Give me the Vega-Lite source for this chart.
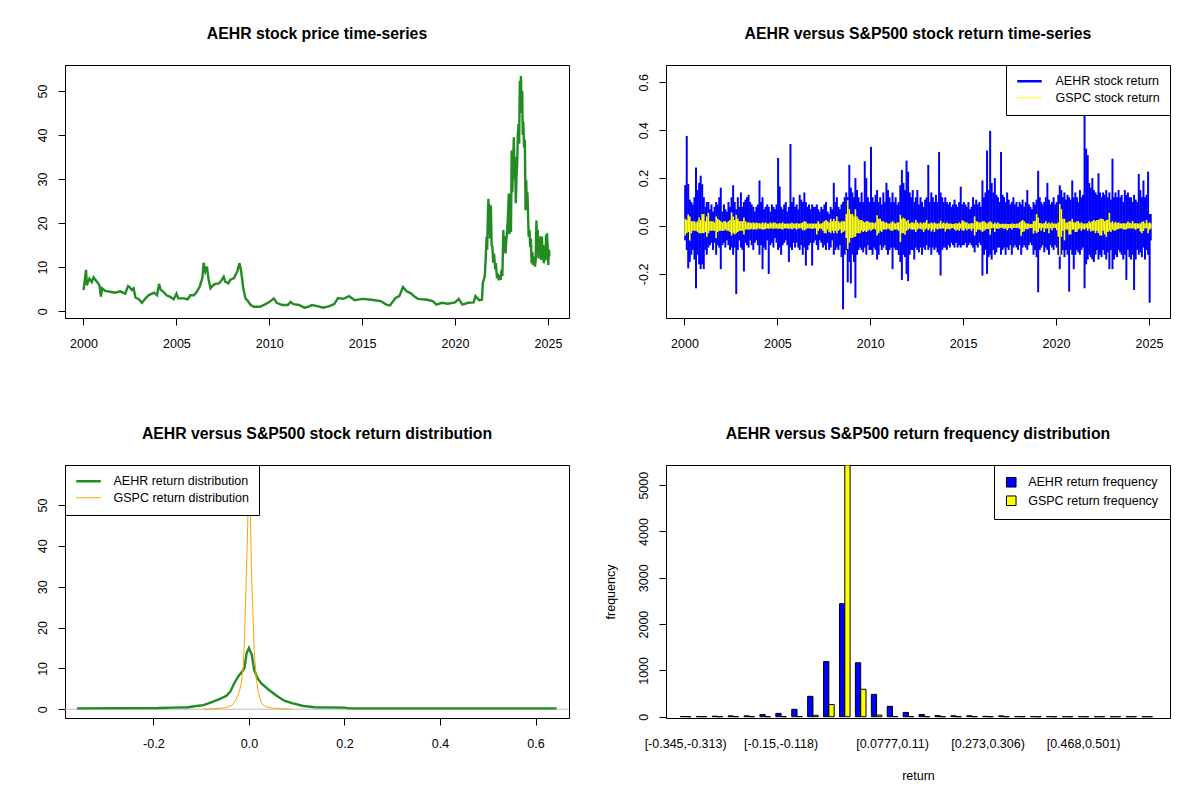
{
  "$schema": "https://vega.github.io/schema/vega-lite/v6.json",
  "autosize": {"type": "none"},
  "padding": {"left": 65, "top": 65, "right": 1135, "bottom": 735},
  "background": "white",
  "columns": 2,
  "spacing": {"row": 147, "column": 97},
  "bounds": "flush",
  "resolve": {"scale": {"color": "independent", "x": "independent", "y": "independent"}, "legend": {"color": "independent"}},
  "config": {
    "font": "Liberation Sans",
    "locale": {"number": {"decimal": ".", "thousands": ",", "grouping": [3], "currency": ["$", ""], "minus": "-"}},
    "view": {"stroke": "black", "strokeWidth": 1},
    "axis": {"domain": false, "grid": false, "ticks": true, "tickSize": 7, "tickColor": "black", "tickWidth": 1, "labelFontSize": 12.5, "labelColor": "black", "labelFont": "Liberation Sans", "titleFont": "Liberation Sans", "titleFontSize": 12.5, "titleFontWeight": "normal", "titleColor": "black", "labelOverlap": false, "labelFlush": false},
    "axisX": {"labelPadding": 22, "labelBaseline": "alphabetic", "labelAngle": 0},
    "axisY": {"labelPadding": 12, "labelAngle": -90, "labelAlign": "center", "labelBaseline": "alphabetic"},
    "title": {"fontSize": 15.8, "fontWeight": "bold", "font": "Liberation Sans", "anchor": "middle", "frame": "group", "baseline": "alphabetic", "offset": 22, "color": "black"},
    "legend": {"labelFont": "Liberation Sans", "labelFontSize": 12.5, "labelColor": "black", "strokeColor": "black", "fillColor": "white", "rowPadding": 3.5, "cornerRadius": 0}
  },
  "concat": [
    {
      "title": "AEHR stock price time-series",
      "width": 504,
      "height": 253,
      "data": {"values": [
        {"d":"2000-01-03","p":4.8},{"d":"2000-02-21","p":9.4},{"d":"2000-03-07","p":5.9},{"d":"2000-04-27","p":7.4},{"d":"2000-06-12","p":6.6},{"d":"2000-07-16","p":7.7},{"d":"2000-08-25","p":7.1},{"d":"2000-10-04","p":6.5},{"d":"2000-11-10","p":5.9},{"d":"2000-12-09","p":3.3},
        {"d":"2001-01-01","p":5.2},{"d":"2001-03-03","p":4.6},{"d":"2001-06-10","p":4.4},{"d":"2001-09-13","p":4.2},{"d":"2001-12-24","p":4.5},
        {"d":"2002-04-01","p":4.0},{"d":"2002-05-26","p":5.7},{"d":"2002-07-01","p":5.4},{"d":"2002-08-08","p":4.8},{"d":"2002-09-13","p":5.2},{"d":"2002-10-19","p":3.1},{"d":"2002-12-24","p":2.7},
        {"d":"2003-02-24","p":1.9},{"d":"2003-04-20","p":2.7},{"d":"2003-07-01","p":3.6},{"d":"2003-10-19","p":4.2},{"d":"2003-12-17","p":3.6},
        {"d":"2004-01-27","p":6.2},{"d":"2004-02-25","p":4.9},{"d":"2004-04-20","p":4.4},{"d":"2004-06-21","p":3.6},{"d":"2004-08-25","p":3.3},{"d":"2004-11-10","p":2.7},
        {"d":"2005-01-03","p":4.0},{"d":"2005-02-06","p":2.9},{"d":"2005-05-26","p":2.9},{"d":"2005-08-08","p":2.7},{"d":"2005-10-05","p":3.6},{"d":"2005-12-10","p":3.6},
        {"d":"2006-02-06","p":4.4},{"d":"2006-04-01","p":5.5},{"d":"2006-05-26","p":7.5},{"d":"2006-06-21","p":11.0},{"d":"2006-07-24","p":9.0},{"d":"2006-08-25","p":10.1},{"d":"2006-09-27","p":7.1},{"d":"2006-11-03","p":5.2},{"d":"2006-12-24","p":5.9},
        {"d":"2007-02-06","p":6.2},{"d":"2007-04-20","p":6.3},{"d":"2007-06-14","p":7.1},{"d":"2007-07-20","p":7.8},{"d":"2007-08-19","p":6.7},{"d":"2007-10-19","p":6.3},{"d":"2007-11-24","p":7.1},
        {"d":"2008-02-06","p":7.5},{"d":"2008-04-12","p":9.0},{"d":"2008-05-26","p":10.9},{"d":"2008-06-24","p":9.4},{"d":"2008-08-08","p":5.2},{"d":"2008-09-21","p":2.9},{"d":"2008-11-07","p":2.3},
        {"d":"2009-01-01","p":1.4},{"d":"2009-03-03","p":1.0},{"d":"2009-07-01","p":1.0},{"d":"2009-10-19","p":1.6},
        {"d":"2010-01-01","p":2.1},{"d":"2010-04-01","p":2.9},{"d":"2010-05-26","p":1.9},{"d":"2010-09-13","p":1.4},
        {"d":"2011-01-01","p":1.4},{"d":"2011-02-24","p":2.1},{"d":"2011-04-20","p":1.6},{"d":"2011-08-08","p":1.4},{"d":"2011-11-24","p":0.8},
        {"d":"2012-02-06","p":1.0},{"d":"2012-04-20","p":1.4},{"d":"2012-08-25","p":1.1},{"d":"2012-11-24","p":0.8},
        {"d":"2013-03-14","p":1.1},{"d":"2013-07-01","p":1.6},{"d":"2013-09-13","p":3.0},
        {"d":"2014-01-01","p":2.8},{"d":"2014-04-20","p":3.4},{"d":"2014-08-08","p":2.5},
        {"d":"2015-01-01","p":2.8},{"d":"2015-07-01","p":2.6},
        {"d":"2016-01-01","p":2.3},{"d":"2016-04-20","p":1.5},{"d":"2016-07-01","p":1.3},{"d":"2016-10-19","p":3.0},
        {"d":"2017-01-01","p":3.4},{"d":"2017-03-14","p":5.5},{"d":"2017-05-26","p":4.5},{"d":"2017-08-08","p":4.1},{"d":"2017-10-19","p":3.4},
        {"d":"2018-01-01","p":2.8},{"d":"2018-07-01","p":2.6},{"d":"2018-10-19","p":2.3},
        {"d":"2019-01-01","p":1.5},{"d":"2019-04-20","p":1.9},{"d":"2019-08-08","p":1.7},
        {"d":"2020-01-01","p":2.0},{"d":"2020-03-14","p":2.8},{"d":"2020-05-26","p":1.5},{"d":"2020-09-13","p":1.9},
        {"d":"2021-01-01","p":2.0},{"d":"2021-02-06","p":3.4},{"d":"2021-04-20","p":2.5},{"d":"2021-06-14","p":2.6},{"d":"2021-07-01","p":6.4},{"d":"2021-08-08","p":7.9},{"d":"2021-08-25","p":11.6},{"d":"2021-09-13","p":16.9},{"d":"2021-09-25","p":14.0},{"d":"2021-10-08","p":22.0},{"d":"2021-10-19","p":25.5},{"d":"2021-10-28","p":18.0},{"d":"2021-11-08","p":24.3},{"d":"2021-11-20","p":16.5},{"d":"2021-12-06","p":24.0},{"d":"2021-12-20","p":15.0},
        {"d":"2022-01-05","p":14.6},{"d":"2022-01-20","p":11.0},{"d":"2022-02-06","p":13.1},{"d":"2022-03-01","p":9.5},{"d":"2022-03-14","p":10.9},{"d":"2022-04-05","p":7.5},{"d":"2022-04-20","p":8.5},{"d":"2022-05-10","p":7.0},{"d":"2022-06-01","p":8.2},{"d":"2022-06-14","p":7.1},{"d":"2022-07-05","p":9.4},{"d":"2022-07-20","p":8.0},{"d":"2022-08-08","p":18.4},{"d":"2022-08-20","p":13.5},{"d":"2022-09-05","p":17.0},{"d":"2022-09-20","p":13.1},{"d":"2022-10-05","p":16.0},{"d":"2022-10-19","p":17.7},{"d":"2022-11-05","p":21.0},{"d":"2022-11-24","p":26.7},{"d":"2022-12-05","p":17.5},{"d":"2022-12-19","p":22.0},
        {"d":"2023-01-05","p":18.0},{"d":"2023-01-19","p":36.5},{"d":"2023-02-01","p":27.0},{"d":"2023-02-14","p":33.0},{"d":"2023-03-03","p":39.5},{"d":"2023-03-15","p":30.0},{"d":"2023-03-28","p":35.0},{"d":"2023-04-10","p":24.5},{"d":"2023-04-25","p":31.0},{"d":"2023-05-08","p":33.5},{"d":"2023-05-20","p":40.0},{"d":"2023-06-03","p":42.5},{"d":"2023-06-15","p":38.0},{"d":"2023-06-28","p":52.3},{"d":"2023-07-10","p":46.0},{"d":"2023-07-20","p":53.4},{"d":"2023-08-01","p":45.0},{"d":"2023-08-14","p":50.0},{"d":"2023-08-25","p":40.0},{"d":"2023-09-05","p":43.0},{"d":"2023-09-20","p":37.2},{"d":"2023-10-05","p":39.0},{"d":"2023-10-19","p":22.9},{"d":"2023-11-01","p":29.7},{"d":"2023-11-12","p":24.0},{"d":"2023-11-24","p":27.0},{"d":"2023-12-05","p":22.9},{"d":"2023-12-19","p":16.9},
        {"d":"2024-01-05","p":18.5},{"d":"2024-01-19","p":14.6},{"d":"2024-02-01","p":16.5},{"d":"2024-02-14","p":10.9},{"d":"2024-03-01","p":13.5},{"d":"2024-03-14","p":10.5},{"d":"2024-04-01","p":12.4},{"d":"2024-04-20","p":10.1},{"d":"2024-05-05","p":11.5},{"d":"2024-05-20","p":20.6},{"d":"2024-06-01","p":14.0},{"d":"2024-06-14","p":18.5},{"d":"2024-06-28","p":12.0},{"d":"2024-07-09","p":14.6},{"d":"2024-07-22","p":12.5},{"d":"2024-08-08","p":17.0},{"d":"2024-08-20","p":11.6},{"d":"2024-09-05","p":16.9},{"d":"2024-09-18","p":12.0},{"d":"2024-10-01","p":15.0},{"d":"2024-10-12","p":10.9},{"d":"2024-10-25","p":13.5},{"d":"2024-11-13","p":11.5},{"d":"2024-11-25","p":17.3},{"d":"2024-12-05","p":12.0},{"d":"2024-12-13","p":17.7},
        {"d":"2025-01-01","p":13.0},{"d":"2025-01-08","p":10.5},{"d":"2025-01-20","p":14.0},{"d":"2025-01-30","p":12.4}
      ]},
      "mark": {"type": "line", "color": "#228B22", "strokeWidth": 2.4, "clip": true},
      "encoding": {
        "x": {"field": "d", "type": "temporal", "scale": {"type": "utc", "domain": [{"year": 1999, "month": 1, "date": 3, "utc": true}, {"year": 2026, "month": 2, "date": 19, "utc": true}]},
              "axis": {"title": null, "format": "%Y", "values": [{"year": 2000, "utc": true}, {"year": 2005, "utc": true}, {"year": 2010, "utc": true}, {"year": 2015, "utc": true}, {"year": 2020, "utc": true}, {"year": 2025, "utc": true}]}},
        "y": {"field": "p", "type": "quantitative", "scale": {"domain": [-1.55, 55.9], "nice": false, "zero": false}, "axis": {"title": null, "values": [0, 10, 20, 30, 40, 50], "format": "d"}}
      }
    },
    {
      "title": "AEHR versus S&P500 stock return time-series",
      "width": 504,
      "height": 253,
      "data": {"values": [
        {"d":"2000-01-15","ah":0.17,"al":-0.06,"gh":0.03,"gl":-0.04},{"d":"2000-02-15","ah":0.376,"al":-0.10,"gh":0.025,"gl":-0.03},{"d":"2000-03-15","ah":0.175,"al":-0.177,"gh":0.048,"gl":-0.025},{"d":"2000-04-15","ah":0.11,"al":-0.15,"gh":0.04,"gl":-0.06},{"d":"2000-05-15","ah":0.10,"al":-0.12,"gh":0.02,"gl":-0.03},{"d":"2000-06-15","ah":0.09,"al":-0.10,"gh":0.02,"gl":-0.02},{"d":"2000-07-15","ah":0.12,"al":-0.14,"gh":0.02,"gl":-0.02},{"d":"2000-08-15","ah":0.244,"al":-0.26,"gh":0.015,"gl":-0.02},{"d":"2000-09-15","ah":0.15,"al":-0.12,"gh":0.02,"gl":-0.025},{"d":"2000-10-15","ah":0.18,"al":-0.16,"gh":0.035,"gl":-0.03},{"d":"2000-11-15","ah":0.21,"al":-0.18,"gh":0.025,"gl":-0.03},{"d":"2000-12-15","ah":0.175,"al":-0.16,"gh":0.05,"gl":-0.03},
        {"d":"2001-01-15","ah":0.12,"al":-0.18,"gh":0.05,"gl":-0.03},{"d":"2001-02-15","ah":0.08,"al":-0.10,"gh":0.02,"gl":-0.025},{"d":"2001-03-15","ah":0.10,"al":-0.12,"gh":0.04,"gl":-0.045},{"d":"2001-04-15","ah":0.10,"al":-0.09,"gh":0.055,"gl":-0.03},{"d":"2001-05-15","ah":0.07,"al":-0.08,"gh":0.02,"gl":-0.02},{"d":"2001-06-15","ah":0.09,"al":-0.07,"gh":0.02,"gl":-0.02},{"d":"2001-07-15","ah":0.06,"al":-0.10,"gh":0.02,"gl":-0.02},{"d":"2001-08-15","ah":0.08,"al":-0.07,"gh":0.015,"gl":-0.02},{"d":"2001-09-15","ah":0.10,"al":-0.12,"gh":0.04,"gl":-0.05},{"d":"2001-10-15","ah":0.09,"al":-0.08,"gh":0.03,"gl":-0.025},{"d":"2001-11-15","ah":0.12,"al":-0.09,"gh":0.025,"gl":-0.02},{"d":"2001-12-15","ah":0.16,"al":-0.18,"gh":0.02,"gl":-0.02},
        {"d":"2002-01-15","ah":0.06,"al":-0.08,"gh":0.015,"gl":-0.02},{"d":"2002-02-15","ah":0.09,"al":-0.07,"gh":0.02,"gl":-0.02},{"d":"2002-03-15","ah":0.07,"al":-0.09,"gh":0.02,"gl":-0.015},{"d":"2002-04-15","ah":0.06,"al":-0.06,"gh":0.015,"gl":-0.02},{"d":"2002-05-15","ah":0.10,"al":-0.08,"gh":0.02,"gl":-0.02},{"d":"2002-06-15","ah":0.08,"al":-0.10,"gh":0.025,"gl":-0.025},{"d":"2002-07-15","ah":0.12,"al":-0.09,"gh":0.057,"gl":-0.04},{"d":"2002-08-15","ah":0.17,"al":-0.12,"gh":0.04,"gl":-0.03},{"d":"2002-09-15","ah":0.10,"al":-0.09,"gh":0.025,"gl":-0.035},{"d":"2002-10-15","ah":0.07,"al":-0.284,"gh":0.047,"gl":-0.03},{"d":"2002-11-15","ah":0.12,"al":-0.10,"gh":0.03,"gl":-0.025},{"d":"2002-12-15","ah":0.08,"al":-0.06,"gh":0.02,"gl":-0.02},
        {"d":"2003-01-15","ah":0.14,"al":-0.09,"gh":0.02,"gl":-0.02},{"d":"2003-02-15","ah":0.08,"al":-0.10,"gh":0.02,"gl":-0.02},{"d":"2003-03-15","ah":0.10,"al":-0.19,"gh":0.035,"gl":-0.035},{"d":"2003-04-15","ah":0.11,"al":-0.07,"gh":0.02,"gl":-0.015},{"d":"2003-05-15","ah":0.12,"al":-0.08,"gh":0.015,"gl":-0.015},{"d":"2003-06-15","ah":0.13,"al":-0.09,"gh":0.015,"gl":-0.015},{"d":"2003-07-15","ah":0.10,"al":-0.06,"gh":0.015,"gl":-0.015},{"d":"2003-08-15","ah":0.09,"al":-0.08,"gh":0.012,"gl":-0.012},{"d":"2003-09-15","ah":0.08,"al":-0.10,"gh":0.015,"gl":-0.015},{"d":"2003-10-15","ah":0.06,"al":-0.07,"gh":0.012,"gl":-0.012},{"d":"2003-11-15","ah":0.08,"al":-0.06,"gh":0.015,"gl":-0.015},{"d":"2003-12-15","ah":0.09,"al":-0.08,"gh":0.012,"gl":-0.01},
        {"d":"2004-01-15","ah":0.19,"al":-0.12,"gh":0.012,"gl":-0.012},{"d":"2004-02-15","ah":0.10,"al":-0.08,"gh":0.01,"gl":-0.012},{"d":"2004-03-15","ah":0.12,"al":-0.18,"gh":0.015,"gl":-0.015},{"d":"2004-04-15","ah":0.07,"al":-0.09,"gh":0.012,"gl":-0.015},{"d":"2004-05-15","ah":0.08,"al":-0.10,"gh":0.015,"gl":-0.012},{"d":"2004-06-15","ah":0.09,"al":-0.06,"gh":0.01,"gl":-0.01},{"d":"2004-07-15","ah":0.08,"al":-0.20,"gh":0.01,"gl":-0.012},{"d":"2004-08-15","ah":0.06,"al":-0.08,"gh":0.015,"gl":-0.01},{"d":"2004-09-15","ah":0.09,"al":-0.07,"gh":0.01,"gl":-0.01},{"d":"2004-10-15","ah":0.08,"al":-0.09,"gh":0.015,"gl":-0.012},{"d":"2004-11-15","ah":0.07,"al":-0.05,"gh":0.015,"gl":-0.01},{"d":"2004-12-15","ah":0.09,"al":-0.07,"gh":0.01,"gl":-0.01},
        {"d":"2005-01-15","ah":0.284,"al":-0.10,"gh":0.01,"gl":-0.012},{"d":"2005-02-15","ah":0.165,"al":-0.09,"gh":0.012,"gl":-0.01},{"d":"2005-03-15","ah":0.08,"al":-0.12,"gh":0.01,"gl":-0.012},{"d":"2005-04-15","ah":0.07,"al":-0.08,"gh":0.015,"gl":-0.015},{"d":"2005-05-15","ah":0.09,"al":-0.07,"gh":0.01,"gl":-0.01},{"d":"2005-06-15","ah":0.10,"al":-0.06,"gh":0.01,"gl":-0.01},{"d":"2005-07-15","ah":0.06,"al":-0.08,"gh":0.01,"gl":-0.01},{"d":"2005-08-15","ah":0.08,"al":-0.15,"gh":0.01,"gl":-0.012},{"d":"2005-09-15","ah":0.342,"al":-0.09,"gh":0.01,"gl":-0.01},{"d":"2005-10-15","ah":0.10,"al":-0.10,"gh":0.015,"gl":-0.015},{"d":"2005-11-15","ah":0.12,"al":-0.07,"gh":0.01,"gl":-0.01},{"d":"2005-12-15","ah":0.08,"al":-0.09,"gh":0.01,"gl":-0.01},
        {"d":"2006-01-15","ah":0.09,"al":-0.07,"gh":0.012,"gl":-0.015},{"d":"2006-02-15","ah":0.07,"al":-0.09,"gh":0.01,"gl":-0.01},{"d":"2006-03-15","ah":0.13,"al":-0.10,"gh":0.01,"gl":-0.01},{"d":"2006-04-15","ah":0.11,"al":-0.08,"gh":0.012,"gl":-0.01},{"d":"2006-05-15","ah":0.10,"al":-0.12,"gh":0.015,"gl":-0.018},{"d":"2006-06-15","ah":0.14,"al":-0.09,"gh":0.02,"gl":-0.018},{"d":"2006-07-15","ah":0.10,"al":-0.165,"gh":0.018,"gl":-0.015},{"d":"2006-08-15","ah":0.08,"al":-0.10,"gh":0.01,"gl":-0.01},{"d":"2006-09-15","ah":0.09,"al":-0.08,"gh":0.01,"gl":-0.01},{"d":"2006-10-15","ah":0.07,"al":-0.07,"gh":0.01,"gl":-0.01},{"d":"2006-11-15","ah":0.09,"al":-0.165,"gh":0.01,"gl":-0.012},{"d":"2006-12-15","ah":0.08,"al":-0.07,"gh":0.01,"gl":-0.01},
        {"d":"2007-01-15","ah":0.08,"al":-0.06,"gh":0.01,"gl":-0.01},{"d":"2007-02-15","ah":0.09,"al":-0.08,"gh":0.01,"gl":-0.035},{"d":"2007-03-15","ah":0.07,"al":-0.10,"gh":0.02,"gl":-0.02},{"d":"2007-04-15","ah":0.06,"al":-0.06,"gh":0.01,"gl":-0.01},{"d":"2007-05-15","ah":0.08,"al":-0.07,"gh":0.01,"gl":-0.012},{"d":"2007-06-15","ah":0.07,"al":-0.09,"gh":0.015,"gl":-0.02},{"d":"2007-07-15","ah":0.09,"al":-0.08,"gh":0.02,"gl":-0.03},{"d":"2007-08-15","ah":0.10,"al":-0.10,"gh":0.025,"gl":-0.03},{"d":"2007-09-15","ah":0.06,"al":-0.07,"gh":0.02,"gl":-0.015},{"d":"2007-10-15","ah":0.05,"al":-0.10,"gh":0.015,"gl":-0.025},{"d":"2007-11-15","ah":0.08,"al":-0.09,"gh":0.03,"gl":-0.03},{"d":"2007-12-15","ah":0.07,"al":-0.06,"gh":0.02,"gl":-0.02},
        {"d":"2008-01-15","ah":0.18,"al":-0.12,"gh":0.03,"gl":-0.03},{"d":"2008-02-15","ah":0.10,"al":-0.10,"gh":0.02,"gl":-0.02},{"d":"2008-03-15","ah":0.12,"al":-0.09,"gh":0.04,"gl":-0.03},{"d":"2008-04-15","ah":0.08,"al":-0.10,"gh":0.02,"gl":-0.02},{"d":"2008-05-15","ah":0.07,"al":-0.08,"gh":0.015,"gl":-0.015},{"d":"2008-06-15","ah":0.09,"al":-0.13,"gh":0.02,"gl":-0.03},{"d":"2008-07-15","ah":0.10,"al":-0.348,"gh":0.02,"gl":-0.025},{"d":"2008-08-15","ah":0.12,"al":-0.12,"gh":0.02,"gl":-0.02},{"d":"2008-09-15","ah":0.14,"al":-0.10,"gh":0.05,"gl":-0.05},{"d":"2008-10-15","ah":0.12,"al":-0.235,"gh":0.108,"gl":-0.096},{"d":"2008-11-15","ah":0.255,"al":-0.15,"gh":0.07,"gl":-0.07},{"d":"2008-12-15","ah":0.16,"al":-0.24,"gh":0.05,"gl":-0.05},
        {"d":"2009-01-15","ah":0.14,"al":-0.12,"gh":0.05,"gl":-0.05},{"d":"2009-02-15","ah":0.12,"al":-0.15,"gh":0.04,"gl":-0.045},{"d":"2009-03-15","ah":0.20,"al":-0.30,"gh":0.07,"gl":-0.045},{"d":"2009-04-15","ah":0.15,"al":-0.12,"gh":0.04,"gl":-0.03},{"d":"2009-05-15","ah":0.12,"al":-0.10,"gh":0.03,"gl":-0.03},{"d":"2009-06-15","ah":0.10,"al":-0.09,"gh":0.025,"gl":-0.03},{"d":"2009-07-15","ah":0.14,"al":-0.10,"gh":0.025,"gl":-0.02},{"d":"2009-08-15","ah":0.10,"al":-0.11,"gh":0.02,"gl":-0.025},{"d":"2009-09-15","ah":0.27,"al":-0.09,"gh":0.015,"gl":-0.02},{"d":"2009-10-15","ah":0.20,"al":-0.12,"gh":0.02,"gl":-0.025},{"d":"2009-11-15","ah":0.12,"al":-0.08,"gh":0.02,"gl":-0.02},{"d":"2009-12-15","ah":0.10,"al":-0.10,"gh":0.015,"gl":-0.015},
        {"d":"2010-01-15","ah":0.33,"al":-0.10,"gh":0.015,"gl":-0.02},{"d":"2010-02-15","ah":0.12,"al":-0.12,"gh":0.015,"gl":-0.015},{"d":"2010-03-15","ah":0.10,"al":-0.09,"gh":0.012,"gl":-0.01},{"d":"2010-04-15","ah":0.13,"al":-0.10,"gh":0.015,"gl":-0.015},{"d":"2010-05-15","ah":0.15,"al":-0.14,"gh":0.045,"gl":-0.04},{"d":"2010-06-15","ah":0.10,"al":-0.12,"gh":0.03,"gl":-0.03},{"d":"2010-07-15","ah":0.12,"al":-0.08,"gh":0.03,"gl":-0.02},{"d":"2010-08-15","ah":0.09,"al":-0.10,"gh":0.02,"gl":-0.025},{"d":"2010-09-15","ah":0.14,"al":-0.09,"gh":0.02,"gl":-0.015},{"d":"2010-10-15","ah":0.10,"al":-0.08,"gh":0.015,"gl":-0.015},{"d":"2010-11-15","ah":0.18,"al":-0.10,"gh":0.015,"gl":-0.015},{"d":"2010-12-15","ah":0.15,"al":-0.12,"gh":0.01,"gl":-0.01},
        {"d":"2011-01-15","ah":0.12,"al":-0.10,"gh":0.01,"gl":-0.015},{"d":"2011-02-15","ah":0.10,"al":-0.09,"gh":0.015,"gl":-0.02},{"d":"2011-03-15","ah":0.14,"al":-0.18,"gh":0.02,"gl":-0.02},{"d":"2011-04-15","ah":0.10,"al":-0.09,"gh":0.015,"gl":-0.015},{"d":"2011-05-15","ah":0.12,"al":-0.10,"gh":0.01,"gl":-0.015},{"d":"2011-06-15","ah":0.09,"al":-0.10,"gh":0.015,"gl":-0.015},{"d":"2011-07-15","ah":0.10,"al":-0.12,"gh":0.015,"gl":-0.02},{"d":"2011-08-15","ah":0.17,"al":-0.15,"gh":0.047,"gl":-0.067},{"d":"2011-09-15","ah":0.234,"al":-0.225,"gh":0.03,"gl":-0.03},{"d":"2011-10-15","ah":0.18,"al":-0.12,"gh":0.035,"gl":-0.03},{"d":"2011-11-15","ah":0.15,"al":-0.13,"gh":0.03,"gl":-0.037},{"d":"2011-12-15","ah":0.273,"al":-0.20,"gh":0.02,"gl":-0.02},
        {"d":"2012-01-15","ah":0.227,"al":-0.23,"gh":0.025,"gl":-0.015},{"d":"2012-02-15","ah":0.14,"al":-0.12,"gh":0.01,"gl":-0.01},{"d":"2012-03-15","ah":0.12,"al":-0.10,"gh":0.015,"gl":-0.015},{"d":"2012-04-15","ah":0.15,"al":-0.10,"gh":0.015,"gl":-0.015},{"d":"2012-05-15","ah":0.10,"al":-0.14,"gh":0.012,"gl":-0.015},{"d":"2012-06-15","ah":0.12,"al":-0.09,"gh":0.025,"gl":-0.025},{"d":"2012-07-15","ah":0.15,"al":-0.10,"gh":0.015,"gl":-0.015},{"d":"2012-08-15","ah":0.09,"al":-0.11,"gh":0.01,"gl":-0.01},{"d":"2012-09-15","ah":0.12,"al":-0.09,"gh":0.015,"gl":-0.012},{"d":"2012-10-15","ah":0.10,"al":-0.12,"gh":0.01,"gl":-0.015},{"d":"2012-11-15","ah":0.08,"al":-0.09,"gh":0.015,"gl":-0.025},{"d":"2012-12-15","ah":0.11,"al":-0.10,"gh":0.015,"gl":-0.015},
        {"d":"2013-01-15","ah":0.12,"al":-0.08,"gh":0.025,"gl":-0.01},{"d":"2013-02-15","ah":0.255,"al":-0.10,"gh":0.01,"gl":-0.018},{"d":"2013-03-15","ah":0.10,"al":-0.09,"gh":0.01,"gl":-0.01},{"d":"2013-04-15","ah":0.14,"al":-0.12,"gh":0.015,"gl":-0.023},{"d":"2013-05-15","ah":0.12,"al":-0.09,"gh":0.01,"gl":-0.015},{"d":"2013-06-15","ah":0.10,"al":-0.10,"gh":0.015,"gl":-0.025},{"d":"2013-07-15","ah":0.13,"al":-0.09,"gh":0.01,"gl":-0.01},{"d":"2013-08-15","ah":0.10,"al":-0.11,"gh":0.01,"gl":-0.015},{"d":"2013-09-15","ah":0.309,"al":-0.12,"gh":0.012,"gl":-0.01},{"d":"2013-10-15","ah":0.14,"al":-0.207,"gh":0.022,"gl":-0.012},{"d":"2013-11-15","ah":0.12,"al":-0.10,"gh":0.01,"gl":-0.01},{"d":"2013-12-15","ah":0.10,"al":-0.09,"gh":0.015,"gl":-0.01},
        {"d":"2014-01-15","ah":0.12,"al":-0.09,"gh":0.01,"gl":-0.023},{"d":"2014-02-15","ah":0.10,"al":-0.10,"gh":0.015,"gl":-0.012},{"d":"2014-03-15","ah":0.09,"al":-0.08,"gh":0.01,"gl":-0.012},{"d":"2014-04-15","ah":0.10,"al":-0.09,"gh":0.01,"gl":-0.015},{"d":"2014-05-15","ah":0.08,"al":-0.07,"gh":0.01,"gl":-0.01},{"d":"2014-06-15","ah":0.09,"al":-0.08,"gh":0.008,"gl":-0.008},{"d":"2014-07-15","ah":0.11,"al":-0.09,"gh":0.01,"gl":-0.015},{"d":"2014-08-15","ah":0.09,"al":-0.07,"gh":0.012,"gl":-0.02},{"d":"2014-09-15","ah":0.08,"al":-0.09,"gh":0.01,"gl":-0.015},{"d":"2014-10-15","ah":0.10,"al":-0.08,"gh":0.015,"gl":-0.02},{"d":"2014-11-15","ah":0.164,"al":-0.09,"gh":0.01,"gl":-0.01},{"d":"2014-12-15","ah":0.09,"al":-0.08,"gh":0.024,"gl":-0.018},
        {"d":"2015-01-15","ah":0.10,"al":-0.08,"gh":0.02,"gl":-0.02},{"d":"2015-02-15","ah":0.09,"al":-0.07,"gh":0.015,"gl":-0.01},{"d":"2015-03-15","ah":0.08,"al":-0.09,"gh":0.015,"gl":-0.018},{"d":"2015-04-15","ah":0.10,"al":-0.08,"gh":0.01,"gl":-0.012},{"d":"2015-05-15","ah":0.07,"al":-0.07,"gh":0.01,"gl":-0.012},{"d":"2015-06-15","ah":0.08,"al":-0.08,"gh":0.012,"gl":-0.02},{"d":"2015-07-15","ah":0.12,"al":-0.09,"gh":0.012,"gl":-0.01},{"d":"2015-08-15","ah":0.09,"al":-0.11,"gh":0.04,"gl":-0.04},{"d":"2015-09-15","ah":0.11,"al":-0.08,"gh":0.02,"gl":-0.025},{"d":"2015-10-15","ah":0.09,"al":-0.09,"gh":0.018,"gl":-0.015},{"d":"2015-11-15","ah":0.10,"al":-0.07,"gh":0.015,"gl":-0.015},{"d":"2015-12-15","ah":0.08,"al":-0.08,"gh":0.015,"gl":-0.018},
        {"d":"2016-01-15","ah":0.19,"al":-0.207,"gh":0.02,"gl":-0.025},{"d":"2016-02-15","ah":0.12,"al":-0.12,"gh":0.02,"gl":-0.02},{"d":"2016-03-15","ah":0.14,"al":-0.10,"gh":0.015,"gl":-0.015},{"d":"2016-04-15","ah":0.315,"al":-0.20,"gh":0.01,"gl":-0.012},{"d":"2016-05-15","ah":0.15,"al":-0.13,"gh":0.015,"gl":-0.012},{"d":"2016-06-15","ah":0.397,"al":-0.12,"gh":0.02,"gl":-0.036},{"d":"2016-07-15","ah":0.18,"al":-0.14,"gh":0.015,"gl":-0.01},{"d":"2016-08-15","ah":0.14,"al":-0.10,"gh":0.008,"gl":-0.008},{"d":"2016-09-15","ah":0.20,"al":-0.12,"gh":0.015,"gl":-0.025},{"d":"2016-10-15","ah":0.13,"al":-0.11,"gh":0.01,"gl":-0.01},{"d":"2016-11-15","ah":0.12,"al":-0.09,"gh":0.015,"gl":-0.012},{"d":"2016-12-15","ah":0.10,"al":-0.09,"gh":0.01,"gl":-0.01},
        {"d":"2017-01-15","ah":0.309,"al":-0.12,"gh":0.008,"gl":-0.008},{"d":"2017-02-15","ah":0.13,"al":-0.10,"gh":0.01,"gl":-0.008},{"d":"2017-03-15","ah":0.12,"al":-0.09,"gh":0.008,"gl":-0.012},{"d":"2017-04-15","ah":0.10,"al":-0.12,"gh":0.01,"gl":-0.01},{"d":"2017-05-15","ah":0.14,"al":-0.09,"gh":0.008,"gl":-0.018},{"d":"2017-06-15","ah":0.11,"al":-0.10,"gh":0.008,"gl":-0.01},{"d":"2017-07-15","ah":0.09,"al":-0.08,"gh":0.008,"gl":-0.008},{"d":"2017-08-15","ah":0.10,"al":-0.12,"gh":0.01,"gl":-0.015},{"d":"2017-09-15","ah":0.12,"al":-0.09,"gh":0.01,"gl":-0.008},{"d":"2017-10-15","ah":0.09,"al":-0.08,"gh":0.008,"gl":-0.008},{"d":"2017-11-15","ah":0.10,"al":-0.09,"gh":0.01,"gl":-0.008},{"d":"2017-12-15","ah":0.08,"al":-0.10,"gh":0.01,"gl":-0.008},
        {"d":"2018-01-15","ah":0.10,"al":-0.08,"gh":0.015,"gl":-0.012},{"d":"2018-02-15","ah":0.09,"al":-0.12,"gh":0.02,"gl":-0.041},{"d":"2018-03-15","ah":0.11,"al":-0.09,"gh":0.025,"gl":-0.025},{"d":"2018-04-15","ah":0.08,"al":-0.08,"gh":0.02,"gl":-0.022},{"d":"2018-05-15","ah":0.10,"al":-0.09,"gh":0.012,"gl":-0.012},{"d":"2018-06-15","ah":0.15,"al":-0.10,"gh":0.01,"gl":-0.014},{"d":"2018-07-15","ah":0.09,"al":-0.08,"gh":0.01,"gl":-0.01},{"d":"2018-08-15","ah":0.08,"al":-0.07,"gh":0.008,"gl":-0.008},{"d":"2018-09-15","ah":0.07,"al":-0.08,"gh":0.008,"gl":-0.008},{"d":"2018-10-15","ah":0.10,"al":-0.12,"gh":0.02,"gl":-0.032},{"d":"2018-11-15","ah":0.09,"al":-0.10,"gh":0.022,"gl":-0.02},{"d":"2018-12-15","ah":0.11,"al":-0.13,"gh":0.05,"gl":-0.03},
        {"d":"2019-01-15","ah":0.23,"al":-0.277,"gh":0.035,"gl":-0.025},{"d":"2019-02-15","ah":0.12,"al":-0.10,"gh":0.012,"gl":-0.01},{"d":"2019-03-15","ah":0.10,"al":-0.09,"gh":0.012,"gl":-0.02},{"d":"2019-04-15","ah":0.09,"al":-0.08,"gh":0.01,"gl":-0.008},{"d":"2019-05-15","ah":0.10,"al":-0.11,"gh":0.012,"gl":-0.025},{"d":"2019-06-15","ah":0.12,"al":-0.09,"gh":0.02,"gl":-0.01},{"d":"2019-07-15","ah":0.18,"al":-0.10,"gh":0.01,"gl":-0.01},{"d":"2019-08-15","ah":0.11,"al":-0.12,"gh":0.015,"gl":-0.03},{"d":"2019-09-15","ah":0.09,"al":-0.08,"gh":0.01,"gl":-0.01},{"d":"2019-10-15","ah":0.10,"al":-0.09,"gh":0.015,"gl":-0.018},{"d":"2019-11-15","ah":0.12,"al":-0.10,"gh":0.01,"gl":-0.008},{"d":"2019-12-15","ah":0.09,"al":-0.08,"gh":0.01,"gl":-0.008},
        {"d":"2020-01-15","ah":0.10,"al":-0.09,"gh":0.01,"gl":-0.018},{"d":"2020-02-15","ah":0.13,"al":-0.12,"gh":0.015,"gl":-0.045},{"d":"2020-03-15","ah":0.17,"al":-0.18,"gh":0.092,"gl":-0.128},{"d":"2020-04-15","ah":0.15,"al":-0.12,"gh":0.07,"gl":-0.045},{"d":"2020-05-15","ah":0.12,"al":-0.10,"gh":0.03,"gl":-0.02},{"d":"2020-06-15","ah":0.14,"al":-0.13,"gh":0.03,"gl":-0.06},{"d":"2020-07-15","ah":0.11,"al":-0.10,"gh":0.015,"gl":-0.015},{"d":"2020-08-15","ah":0.13,"al":-0.12,"gh":0.015,"gl":-0.015},{"d":"2020-09-15","ah":0.12,"al":-0.274,"gh":0.02,"gl":-0.035},{"d":"2020-10-15","ah":0.11,"al":-0.10,"gh":0.02,"gl":-0.035},{"d":"2020-11-15","ah":0.19,"al":-0.12,"gh":0.03,"gl":-0.015},{"d":"2020-12-15","ah":0.12,"al":-0.18,"gh":0.015,"gl":-0.015},
        {"d":"2021-01-15","ah":0.14,"al":-0.12,"gh":0.015,"gl":-0.025},{"d":"2021-02-15","ah":0.12,"al":-0.10,"gh":0.02,"gl":-0.025},{"d":"2021-03-15","ah":0.10,"al":-0.11,"gh":0.02,"gl":-0.015},{"d":"2021-04-15","ah":0.15,"al":-0.12,"gh":0.012,"gl":-0.01},{"d":"2021-05-15","ah":0.12,"al":-0.10,"gh":0.015,"gl":-0.02},{"d":"2021-06-15","ah":0.13,"al":-0.09,"gh":0.01,"gl":-0.013},{"d":"2021-07-15","ah":0.63,"al":-0.26,"gh":0.01,"gl":-0.015},{"d":"2021-08-15","ah":0.323,"al":-0.16,"gh":0.01,"gl":-0.008},{"d":"2021-09-15","ah":0.296,"al":-0.14,"gh":0.012,"gl":-0.02},{"d":"2021-10-15","ah":0.18,"al":-0.12,"gh":0.02,"gl":-0.012},{"d":"2021-11-15","ah":0.16,"al":-0.13,"gh":0.015,"gl":-0.023},{"d":"2021-12-15","ah":0.20,"al":-0.14,"gh":0.02,"gl":-0.02},
        {"d":"2022-01-15","ah":0.15,"al":-0.15,"gh":0.025,"gl":-0.02},{"d":"2022-02-15","ah":0.14,"al":-0.12,"gh":0.02,"gl":-0.03},{"d":"2022-03-15","ah":0.13,"al":-0.10,"gh":0.025,"gl":-0.02},{"d":"2022-04-15","ah":0.22,"al":-0.14,"gh":0.025,"gl":-0.03},{"d":"2022-05-15","ah":0.14,"al":-0.12,"gh":0.03,"gl":-0.04},{"d":"2022-06-15","ah":0.12,"al":-0.13,"gh":0.03,"gl":-0.04},{"d":"2022-07-15","ah":0.14,"al":-0.10,"gh":0.028,"gl":-0.02},{"d":"2022-08-15","ah":0.13,"al":-0.12,"gh":0.02,"gl":-0.035},{"d":"2022-09-15","ah":0.15,"al":-0.14,"gh":0.025,"gl":-0.045},{"d":"2022-10-15","ah":0.12,"al":-0.11,"gh":0.026,"gl":-0.025},{"d":"2022-11-15","ah":0.14,"al":-0.18,"gh":0.055,"gl":-0.02},{"d":"2022-12-15","ah":0.11,"al":-0.10,"gh":0.015,"gl":-0.025},
        {"d":"2023-01-15","ah":0.281,"al":-0.18,"gh":0.02,"gl":-0.015},{"d":"2023-02-15","ah":0.12,"al":-0.14,"gh":0.012,"gl":-0.02},{"d":"2023-03-15","ah":0.14,"al":-0.12,"gh":0.018,"gl":-0.018},{"d":"2023-04-15","ah":0.12,"al":-0.13,"gh":0.013,"gl":-0.015},{"d":"2023-05-15","ah":0.15,"al":-0.10,"gh":0.015,"gl":-0.012},{"d":"2023-06-15","ah":0.12,"al":-0.11,"gh":0.012,"gl":-0.01},{"d":"2023-07-15","ah":0.13,"al":-0.12,"gh":0.01,"gl":-0.01},{"d":"2023-08-15","ah":0.10,"al":-0.14,"gh":0.012,"gl":-0.014},{"d":"2023-09-15","ah":0.15,"al":-0.12,"gh":0.01,"gl":-0.015},{"d":"2023-10-15","ah":0.13,"al":-0.225,"gh":0.012,"gl":-0.014},{"d":"2023-11-15","ah":0.14,"al":-0.10,"gh":0.019,"gl":-0.01},{"d":"2023-12-15","ah":0.12,"al":-0.13,"gh":0.014,"gl":-0.01},
        {"d":"2024-01-15","ah":0.12,"al":-0.14,"gh":0.012,"gl":-0.01},{"d":"2024-02-15","ah":0.10,"al":-0.12,"gh":0.021,"gl":-0.01},{"d":"2024-03-15","ah":0.13,"al":-0.267,"gh":0.01,"gl":-0.01},{"d":"2024-04-15","ah":0.11,"al":-0.14,"gh":0.012,"gl":-0.016},{"d":"2024-05-15","ah":0.10,"al":-0.10,"gh":0.012,"gl":-0.01},{"d":"2024-06-15","ah":0.217,"al":-0.12,"gh":0.01,"gl":-0.01},{"d":"2024-07-15","ah":0.15,"al":-0.11,"gh":0.011,"gl":-0.023},{"d":"2024-08-15","ah":0.12,"al":-0.13,"gh":0.017,"gl":-0.03},{"d":"2024-09-15","ah":0.19,"al":-0.09,"gh":0.02,"gl":-0.021},{"d":"2024-10-15","ah":0.12,"al":-0.14,"gh":0.012,"gl":-0.01},{"d":"2024-11-15","ah":0.13,"al":-0.10,"gh":0.025,"gl":-0.01},{"d":"2024-12-15","ah":0.227,"al":-0.12,"gh":0.012,"gl":-0.03},
        {"d":"2025-01-15","ah":0.05,"al":-0.32,"gh":0.015,"gl":-0.015},{"d":"2025-02-05","ah":0.05,"al":-0.06,"gh":0.01,"gl":-0.01}
      ]},
      "layer": [
        {
          "mark": {"type": "rule", "strokeWidth": 2, "clip": true},
          "encoding": {
            "x": {"field": "d", "type": "temporal", "scale": {"type": "utc", "domain": [{"year": 1999, "month": 1, "date": 3, "utc": true}, {"year": 2026, "month": 2, "date": 19, "utc": true}]},
                  "axis": {"title": null, "format": "%Y", "values": [{"year": 2000, "utc": true}, {"year": 2005, "utc": true}, {"year": 2010, "utc": true}, {"year": 2015, "utc": true}, {"year": 2020, "utc": true}, {"year": 2025, "utc": true}]}},
            "y": {"field": "al", "type": "quantitative", "scale": {"domain": [-0.384, 0.672], "nice": false, "zero": false}, "axis": {"title": null, "values": [-0.2, 0, 0.2, 0.4, 0.6], "format": ".1f"}},
            "y2": {"field": "ah"},
            "color": {"datum": "AEHR stock return", "scale": {"domain": ["AEHR stock return", "GSPC stock return"], "range": ["#0000FF", "#FFFF00"]},
                      "legend": {"title": null, "orient": "top-right", "offset": 0, "padding": 10, "symbolType": "M-1,0H3.9", "symbolSize": 100, "labelOffset": 27,
                                 "encode": {"symbols": {"update": {"strokeWidth": {"signal": "datum.value === 'AEHR stock return' ? 2.5 : 1"}}}}}}
          }
        },
        {
          "mark": {"type": "rule", "strokeWidth": 1.6, "clip": true},
          "encoding": {
            "x": {"field": "d", "type": "temporal"},
            "y": {"field": "gl", "type": "quantitative"},
            "y2": {"field": "gh"},
            "color": {"datum": "GSPC stock return"}
          }
        }
      ]
    },
    {
      "title": "AEHR versus S&P500 stock return distribution",
      "width": 504,
      "height": 253,
      "layer": [
        {
          "data": {"values": [{}]},
          "mark": {"type": "rule", "color": "#BEBEBE", "strokeWidth": 1},
          "encoding": {"y": {"datum": 0, "type": "quantitative", "scale": {"domain": [-2.15, 59.8], "nice": false, "zero": false}, "axis": {"title": null, "values": [0, 10, 20, 30, 40, 50], "format": "d"}}}
        },
        {
          "data": {"values": [
            {"x":-0.36,"y":0.2},{"x":-0.19,"y":0.3},{"x":-0.16,"y":0.4},{"x":-0.127,"y":0.5},{"x":-0.11,"y":0.8},{"x":-0.095,"y":1.0},{"x":-0.079,"y":1.7},{"x":-0.063,"y":2.4},{"x":-0.047,"y":3.3},{"x":-0.039,"y":4.3},{"x":-0.031,"y":6.3},{"x":-0.022,"y":8.1},{"x":-0.014,"y":9.2},{"x":-0.009,"y":10.2},{"x":-0.005,"y":13.7},{"x":0.0,"y":15.0},{"x":0.006,"y":13.3},{"x":0.011,"y":9.6},{"x":0.018,"y":7.6},{"x":0.026,"y":6.3},{"x":0.042,"y":4.7},{"x":0.058,"y":3.3},{"x":0.074,"y":2.1},{"x":0.09,"y":1.5},{"x":0.114,"y":0.8},{"x":0.138,"y":0.5},{"x":0.2,"y":0.4},{"x":0.21,"y":0.2},{"x":0.644,"y":0.2}
          ]},
          "mark": {"type": "line", "strokeWidth": 2.4},
          "encoding": {
            "x": {"field": "x", "type": "quantitative", "scale": {"domain": [-0.385, 0.67], "nice": false, "zero": false}, "axis": {"title": null, "values": [-0.2, 0, 0.2, 0.4, 0.6], "format": ".1f"}},
            "y": {"field": "y", "type": "quantitative"},
            "color": {"datum": "AEHR return distribution", "scale": {"domain": ["AEHR return distribution", "GSPC return distribution"], "range": ["#228B22", "#FFA500"]},
                      "legend": {"title": null, "orient": "top-left", "offset": 0, "padding": 10, "symbolType": "M-1,0H3.9", "symbolSize": 100, "labelOffset": 26,
                                 "encode": {"symbols": {"update": {"strokeWidth": {"signal": "datum.value === 'AEHR return distribution' ? 2.5 : 1"}}}}}}
          }
        },
        {
          "data": {"values": [
            {"x":-0.095,"y":0.0},{"x":-0.07,"y":0.15},{"x":-0.047,"y":0.4},{"x":-0.035,"y":1.0},{"x":-0.027,"y":2.3},{"x":-0.021,"y":3.9},{"x":-0.016,"y":6.3},{"x":-0.012,"y":10.4},{"x":-0.009,"y":17.7},{"x":-0.006,"y":30.7},{"x":-0.003,"y":42.9},{"x":-0.0015,"y":51.0},{"x":0.0005,"y":57.3},{"x":0.002,"y":53.0},{"x":0.004,"y":42.0},{"x":0.0055,"y":33.0},{"x":0.008,"y":25.0},{"x":0.011,"y":14.5},{"x":0.015,"y":8.0},{"x":0.02,"y":3.9},{"x":0.026,"y":1.5},{"x":0.034,"y":0.65},{"x":0.05,"y":0.25},{"x":0.07,"y":0.1},{"x":0.09,"y":0.0}
          ]},
          "mark": {"type": "line", "strokeWidth": 1},
          "encoding": {
            "x": {"field": "x", "type": "quantitative"},
            "y": {"field": "y", "type": "quantitative"},
            "color": {"datum": "GSPC return distribution"}
          }
        }
      ]
    },
    {
      "title": "AEHR versus S&P500 return frequency distribution",
      "width": 504,
      "height": 253,
      "data": {"values": [
        {"bin":"[-0.345,-0.313)","AEHR return frequency":5,"GSPC return frequency":0},
        {"bin":"[-0.313,-0.28)","AEHR return frequency":3,"GSPC return frequency":0},
        {"bin":"[-0.28,-0.248)","AEHR return frequency":12,"GSPC return frequency":0},
        {"bin":"[-0.248,-0.215)","AEHR return frequency":18,"GSPC return frequency":0},
        {"bin":"[-0.215,-0.183)","AEHR return frequency":18,"GSPC return frequency":0},
        {"bin":"[-0.183,-0.15)","AEHR return frequency":45,"GSPC return frequency":0},
        {"bin":"[-0.15,-0.118)","AEHR return frequency":72,"GSPC return frequency":1},
        {"bin":"[-0.118,-0.085)","AEHR return frequency":160,"GSPC return frequency":5},
        {"bin":"[-0.085,-0.0524)","AEHR return frequency":440,"GSPC return frequency":30},
        {"bin":"[-0.0524,-0.0199)","AEHR return frequency":1190,"GSPC return frequency":262},
        {"bin":"[-0.0199,0.0127)","AEHR return frequency":2440,"GSPC return frequency":5436},
        {"bin":"[0.0127,0.0452)","AEHR return frequency":1165,"GSPC return frequency":592},
        {"bin":"[0.0452,0.0777)","AEHR return frequency":483,"GSPC return frequency":35},
        {"bin":"[0.0777,0.11)","AEHR return frequency":225,"GSPC return frequency":5},
        {"bin":"[0.11,0.143)","AEHR return frequency":92,"GSPC return frequency":2},
        {"bin":"[0.143,0.175)","AEHR return frequency":48,"GSPC return frequency":0},
        {"bin":"[0.175,0.208)","AEHR return frequency":22,"GSPC return frequency":0},
        {"bin":"[0.208,0.241)","AEHR return frequency":20,"GSPC return frequency":0},
        {"bin":"[0.241,0.273)","AEHR return frequency":20,"GSPC return frequency":0},
        {"bin":"[0.273,0.306)","AEHR return frequency":8,"GSPC return frequency":0},
        {"bin":"[0.306,0.338)","AEHR return frequency":18,"GSPC return frequency":0},
        {"bin":"[0.338,0.371)","AEHR return frequency":5,"GSPC return frequency":0},
        {"bin":"[0.371,0.403)","AEHR return frequency":4,"GSPC return frequency":0},
        {"bin":"[0.403,0.436)","AEHR return frequency":3,"GSPC return frequency":0},
        {"bin":"[0.436,0.468)","AEHR return frequency":2,"GSPC return frequency":0},
        {"bin":"[0.468,0.501)","AEHR return frequency":2,"GSPC return frequency":0},
        {"bin":"[0.501,0.534)","AEHR return frequency":1,"GSPC return frequency":0},
        {"bin":"[0.534,0.566)","AEHR return frequency":1,"GSPC return frequency":0},
        {"bin":"[0.566,0.599)","AEHR return frequency":0,"GSPC return frequency":0},
        {"bin":"[0.599,0.631]","AEHR return frequency":1,"GSPC return frequency":0}
      ]},
      "transform": [{"fold": ["AEHR return frequency", "GSPC return frequency"], "as": ["series", "n"]}],
      "mark": {"type": "bar", "stroke": "black", "strokeWidth": 1, "clip": true},
      "encoding": {
        "x": {"field": "bin", "type": "nominal", "sort": null, "scale": {"paddingInner": 0.3333, "paddingOuter": 1.22, "align": 0.45},
              "axis": {"title": "return", "values": ["[-0.345,-0.313)", "[-0.15,-0.118)", "[0.0777,0.11)", "[0.273,0.306)", "[0.468,0.501)"], "labelAngle": 0, "tickOpacity": 0, "titleY": 57, "titleBaseline": "middle"}},
        "xOffset": {"field": "series", "type": "nominal", "scale": {"paddingInner": 0, "paddingOuter": 0}},
        "y": {"field": "n", "type": "quantitative", "scale": {"domain": [-28, 5436], "nice": false, "zero": false},
              "axis": {"title": "frequency", "values": [0, 1000, 2000, 3000, 4000, 5000], "format": "d", "titleX": -55.6, "titleY": 126.5, "titleBaseline": "middle", "titleAngle": -90}},
        "y2": {"datum": 0},
        "color": {"field": "series", "type": "nominal", "scale": {"domain": ["AEHR return frequency", "GSPC return frequency"], "range": ["#0000FF", "#FFFF00"]},
                  "legend": {"title": null, "orient": "top-right", "offset": 0, "padding": 11, "symbolType": "square", "symbolSize": 92, "symbolStrokeColor": "black", "symbolStrokeWidth": 1, "labelOffset": 10.7,
                             "encode": {"symbols": {"update": {"stroke": {"value": "black"}, "strokeWidth": {"value": 1}}}}}}
      }
    }
  ]
}
